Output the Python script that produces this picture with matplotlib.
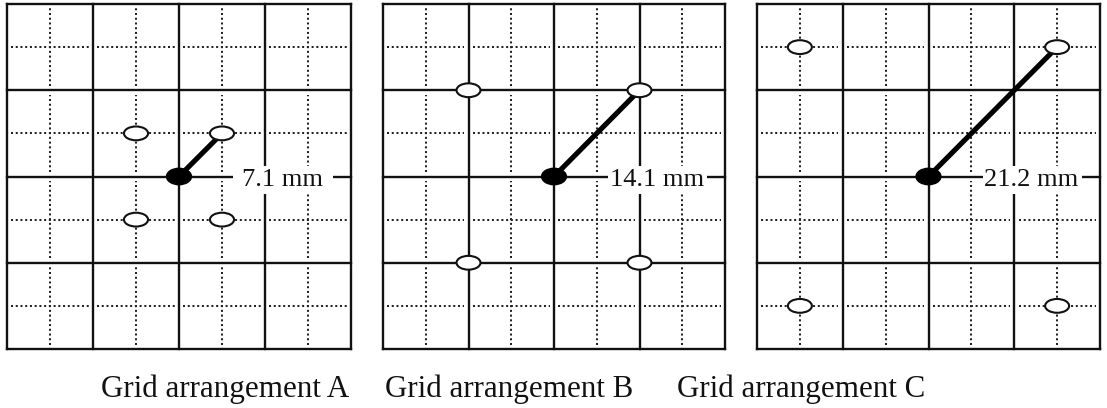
import matplotlib
matplotlib.use("Agg")
import matplotlib.pyplot as plt
from matplotlib.patches import Ellipse, Rectangle

# ---- data ----
panel_titles = ["Grid arrangement A", "Grid arrangement B", "Grid arrangement C"]
distance_labels = ["7.1 mm", "14.1 mm", "21.2 mm"]
grid_size = 40          # mm, panel extent
major_step = 10         # mm, solid lines
minor_offset = 5        # mm, dotted lines in the middle of each cell
center_x = 20
center_y = 20
holes_A_x = [15, 25, 15, 25]
holes_A_y = [25, 25, 15, 15]
holes_B_x = [10, 30, 10, 30]
holes_B_y = [30, 30, 10, 10]
holes_C_x = [5, 35, 5, 35]
holes_C_y = [35, 35, 5, 5]
# hole the distance line goes to (index into each holes list)
target_index = 1

holes_x = [holes_A_x, holes_B_x, holes_C_x]
holes_y = [holes_A_y, holes_B_y, holes_C_y]

# ---- layout (pixels) ----
W, H = 1107, 408
fig = plt.figure(figsize=(W / 100, H / 100), dpi=100)
panel_px = [(7, 351), (383, 725), (757, 1100)]
top_px, bot_px = 4, 349
title_left_px = [101, 385, 677]
title_base_px = 397

serif = ["Liberation Serif", "DejaVu Serif"]

for i in range(3):
    x0, x1 = panel_px[i]
    ax = fig.add_axes([x0 / W, (H - bot_px) / H, (x1 - x0) / W, (bot_px - top_px) / H])
    ax.set_xlim(0, grid_size)
    ax.set_ylim(0, grid_size)
    ax.axis("off")

    majors = list(range(0, grid_size + 1, major_step))
    # solid grid
    for v in majors:
        ax.plot([v, v], [0, grid_size], color="#111111", lw=1.7, clip_on=False, zorder=2,
                solid_capstyle="projecting")
        ax.plot([0, grid_size], [v, v], color="#111111", lw=1.7, clip_on=False, zorder=2,
                solid_capstyle="projecting")
    # dotted grid (segments inside each cell, stopping short of solid lines)
    for m in range(0, grid_size, major_step):
        mid = m + minor_offset
        for c in range(0, grid_size, major_step):
            ax.plot([mid, mid], [c + 0.5, c + major_step - 0.5], color="#222222", lw=1.45,
                    linestyle=(0, (1, 1.35)), zorder=1.5)
            ax.plot([c + 0.5, c + major_step - 0.5], [mid, mid], color="#222222", lw=1.45,
                    linestyle=(0, (1, 1.35)), zorder=1.5)

    hx, hy = holes_x[i], holes_y[i]
    # distance line
    ax.plot([center_x, hx[target_index]], [center_y, hy[target_index]], color="black",
            lw=3.7, zorder=3, solid_capstyle="butt")
    # holes
    for x, y in zip(hx, hy):
        ax.add_patch(Ellipse((x, y), 2.8, 1.6, facecolor="white", edgecolor="#111111",
                             lw=1.5, zorder=4))
    # center electrode
    ax.add_patch(Ellipse((center_x, center_y), 2.9, 1.9, facecolor="black",
                         edgecolor="black", lw=1.0, zorder=5))
    # distance label with white background
    ax.add_patch(Rectangle((26.3, 18.0), 11.6, 3.2, facecolor="white", edgecolor="none",
                           zorder=6))
    ax.text(32.0, 18.85, distance_labels[i], ha="center", va="baseline", fontsize=19,
            family=serif, color="#111111", zorder=7)

for i in range(3):
    fig.text(title_left_px[i] / W, (H - title_base_px) / H, panel_titles[i], ha="left",
             va="baseline", fontsize=22.3, family=serif, color="#111111")

fig.savefig("out.png", dpi=100, facecolor="white")
